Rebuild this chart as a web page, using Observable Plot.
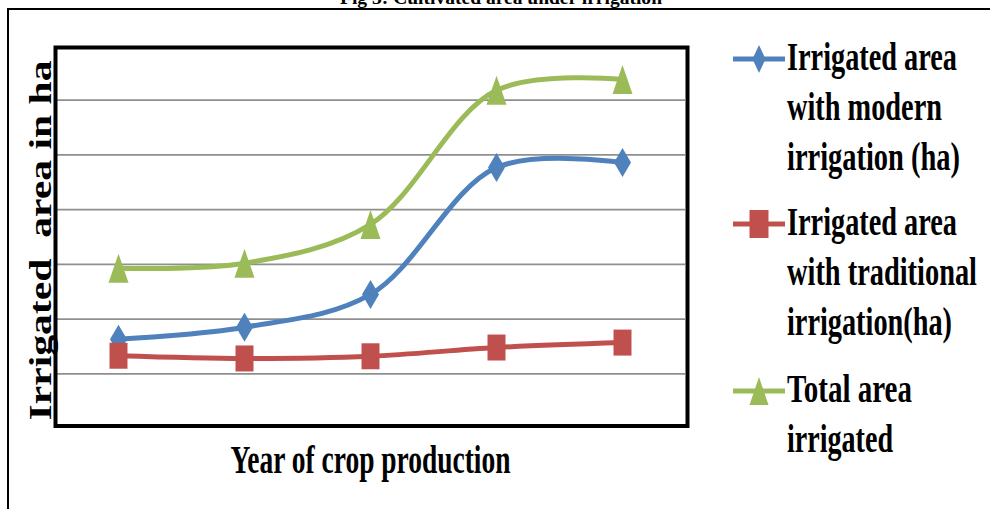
<!DOCTYPE html>
<html>
<head>
<meta charset="utf-8">
<script src="https://cdn.jsdelivr.net/npm/d3@7"></script>
<script src="https://cdn.jsdelivr.net/npm/@observablehq/plot@0.6"></script>
<style>
  html, body { margin: 0; padding: 0; background: #fff; }
  #wrap { position: relative; width: 990px; height: 509px; overflow: hidden; background: #fff; }
  #wrap > svg { position: absolute; left: 0; top: 0; }
  #overlay { pointer-events: none; }
</style>
</head>
<body>
<div id="wrap"></div>
<script>
// ---- data ----
const years = ["Year 1", "Year 2", "Year 3", "Year 4", "Year 5"];
const modern = [1.63, 1.85, 2.45, 4.77, 4.86];
const traditional = [1.33, 1.28, 1.32, 1.48, 1.57];
const total = [2.93, 3.02, 3.73, 6.18, 6.38];
const yTicks = [1, 2, 3, 4, 5, 6];
const seriesNames = ["Irrigated area with modern irrigation (ha)", "Irrigated area with traditional irrigation(ha)", "Total area irrigated"];
const legendLines = [["Irrigated area", "with modern", "irrigation (ha)"], ["Irrigated area", "with traditional", "irrigation(ha)"], ["Total area", "irrigated"]];
const colors = ["#4f81bd", "#c0504d", "#9bbb59"];
const titleText = "Fig 3: Cultivated area under irrigation";
const xLabel = "Year of crop production";
const yLabel = "Irrigated  area in ha";

// ---- marker shapes ----
function diamondSym(w, h) { return { draw(c) { c.moveTo(0, -h/2); c.lineTo(w/2, 0); c.lineTo(0, h/2); c.lineTo(-w/2, 0); c.closePath(); } }; }
function rectSym(w, h) { return { draw(c) { c.moveTo(-w/2, -h/2); c.lineTo(w/2, -h/2); c.lineTo(w/2, h/2); c.lineTo(-w/2, h/2); c.closePath(); } }; }
function triSym(w, h) { return { draw(c) { c.moveTo(0, -h/2); c.lineTo(w/2, h/2); c.lineTo(-w/2, h/2); c.closePath(); } }; }
const chartSyms = [diamondSym(17, 29), rectSym(18, 26), triSym(20, 29)];
const legendSyms = [diamondSym(13, 28), rectSym(19, 28), triSym(19, 28)];

const values = [modern, traditional, total];
const rows = [];
values.forEach((vals, s) => vals.forEach((v, i) => rows.push({ year: years[i], value: v, series: seriesNames[s] })));

const font = "'Liberation Serif', 'Times New Roman', serif";

const marks = [
  Plot.ruleY(yTicks, { stroke: "#8f8f8f", strokeWidth: 1.8 }),
  Plot.frame({ stroke: "#000", strokeWidth: 4, insetTop: 2, insetBottom: 2.5, insetRight: -2 })
];
seriesNames.forEach((name, s) => {
  const d = rows.filter(r => r.series === name);
  marks.push(Plot.line(d, { x: "year", y: "value", stroke: colors[s], strokeWidth: 5, curve: "catmull-rom" }));
});
seriesNames.forEach((name, s) => {
  const d = rows.filter(r => r.series === name);
  marks.push(Plot.dot(d, { x: "year", y: "value", fill: colors[s], stroke: "none", symbol: chartSyms[s] }));
});
marks.push(Plot.text([xLabel], { frameAnchor: "bottom", dy: 44, lineAnchor: "bottom", textAnchor: "middle", fontSize: 40, fontWeight: "bold", fontFamily: font, fill: "#000" }));
marks.push(Plot.text([yLabel], { frameAnchor: "left", dx: -5, dy: 3.5, rotate: -90, lineAnchor: "bottom", textAnchor: "middle", fontSize: 32, fontWeight: "bold", fontFamily: font, fill: "#000" }));

const chart = Plot.plot({
  width: 990, height: 509,
  marginLeft: 55, marginRight: 305, marginTop: 45, marginBottom: 81,
  style: { background: "transparent", overflow: "visible" },
  x: { type: "point", domain: years, padding: 0.5, axis: null },
  y: { domain: [0, 7], axis: null },
  marks
});
const wrap = document.getElementById("wrap");
wrap.appendChild(chart);

d3.select(chart).selectAll("text").each(function () {
  const t = this.textContent;
  if (t === xLabel) d3.select(this).attr("textLength", 280).attr("lengthAdjust", "spacingAndGlyphs");
  if (t === yLabel) d3.select(this).attr("textLength", 360).attr("lengthAdjust", "spacingAndGlyphs");
});

// ---- overlay: outer box, title, legend ----
const ov = d3.select(wrap).append("svg").attr("id", "overlay").attr("width", 990).attr("height", 509);
ov.append("rect").attr("x", 8).attr("y", 9).attr("width", 1100).attr("height", 600).attr("fill", "none").attr("stroke", "#000").attr("stroke-width", 2);
ov.append("text").attr("x", 501).attr("y", 4).attr("text-anchor", "middle").attr("font-family", font).attr("font-weight", "bold").attr("font-size", 18)
  .attr("textLength", 322).attr("lengthAdjust", "spacingAndGlyphs").text(titleText);

const legendLengths = [[170, 155, 173], [170, 190, 165], [125, 106]];
const legendFirstBaseline = [70, 235, 402];
const lineStep = 50;
legendLines.forEach((lines, s) => {
  const g = ov.append("g");
  const my = legendFirstBaseline[s] - 11;
  g.append("line").attr("x1", 733).attr("x2", 785).attr("y1", my).attr("y2", my).attr("stroke", colors[s]).attr("stroke-width", 5);
  g.append("path").attr("d", d3.symbol(legendSyms[s])()).attr("transform", `translate(759,${my})`).attr("fill", colors[s]);
  lines.forEach((t, k) => {
    g.append("text").attr("transform", `translate(787,${legendFirstBaseline[s] + k * lineStep}) scale(1,1.45)`)
      .attr("font-family", font).attr("font-weight", "bold").attr("font-size", 27)
      .attr("textLength", legendLengths[s][k]).attr("lengthAdjust", "spacingAndGlyphs").text(t);
  });
});
</script>
</body>
</html>
